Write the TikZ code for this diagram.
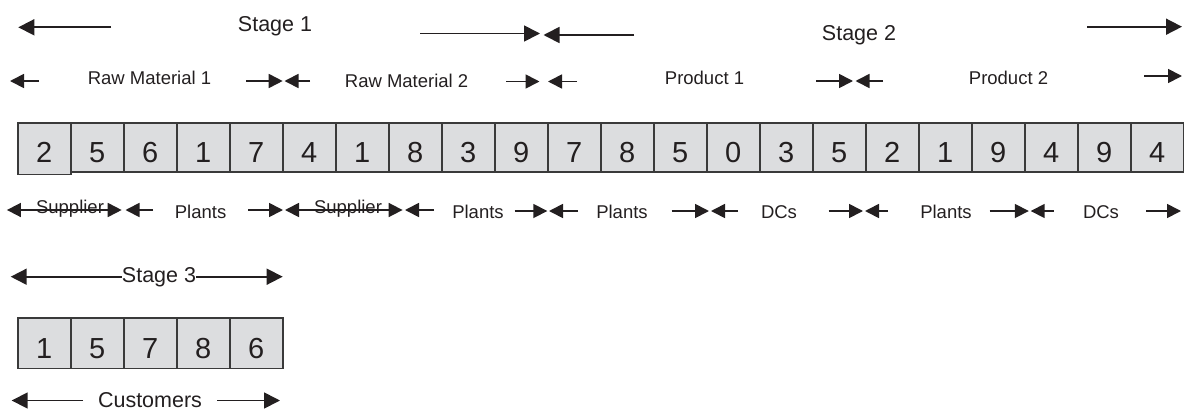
\documentclass[tikz,border=0pt]{standalone}
\usepackage{fontspec}
\setmainfont{Liberation Sans}
\usetikzlibrary{arrows.meta}
\definecolor{cellfill}{HTML}{DCDDDF}
\definecolor{cellline}{HTML}{3A3A3A}
\definecolor{ink}{HTML}{231F20}

\begin{document}
\begin{tikzpicture}[x=1pt,y=-1pt,
  cellbox/.style={draw=cellline, fill=cellfill, line width=1.6pt,
    minimum width=53pt, minimum height=49pt, inner sep=0pt, anchor=north,
    text height=31pt, text depth=0pt, text=ink,
    font=\fontsize{29}{30}\selectfont},
  lbl/.style={anchor=base, inner sep=0pt, text=ink,
    font=\fontsize{18.5}{20}\selectfont},
  biglbl/.style={lbl, font=\fontsize{21.5}{23}\selectfont},
  dimline/.style={draw=ink, line width=1.7pt},
  bigtip/.style={dimline, -{Triangle[length=16pt,width=16pt]}},
  smalltip/.style={dimline, -{Triangle[length=14pt,width=14pt]}},
  bothtip/.style={dimline, {Triangle[length=14pt,width=14pt]}-{Triangle[length=14pt,width=14pt]}},
]
\useasboundingbox (0,0) rectangle (1184,410);

% ---------- Stage row ----------
\node[biglbl] (st1) at (275,31.7) {Stage 1};
\node[biglbl] (st2) at (859,40.7) {Stage 2};
\coordinate (s1L) at (18.3,27.3);   \coordinate (s1a) at (111,27.3);
\coordinate (s1b) at (420,33.5);    \coordinate (s1R) at (540,33.5);
\coordinate (s2a) at (634,35);      \coordinate (s2L) at (543.5,35);
\coordinate (s2b) at (1087,26.7);   \coordinate (s2R) at (1182,26.7);
\draw[bigtip] (s1a) -- (s1L);
\draw[bigtip] (s1b) -- (s1R);
\draw[bigtip] (s2a) -- (s2L);
\draw[bigtip] (s2b) -- (s2R);

% ---------- Material / product row ----------
\node[lbl] (rm1) at (149.5,84.4) {Raw Material 1};
\node[lbl] (rm2) at (406.6,87)   {Raw Material 2};
\node[lbl] (pr1) at (704.5,84)   {Product 1};
\node[lbl] (pr2) at (1008.5,84)  {Product 2};
\foreach \a/\b/\y [count=\k] in {39/10/81, 246/282.7/81, 310/284.5/81,
    506/539.5/81.5, 577/548/81.5, 816/853/81, 883/855.5/81, 1144/1182/76}{
  \coordinate (m\k a) at (\a,\y);
  \coordinate (m\k b) at (\b,\y);
  \draw[smalltip] (m\k a) -- (m\k b);
}

% ---------- Chromosome, stages 1 and 2 ----------
\node[cellbox, minimum height=51.5pt, text height=28.5pt] (c0) at (44.2,122) {2};
\foreach \d [count=\i] in {5,6,1,7,4,1,8,3,9,7,8,5,0,3,5,2,1,9,4,9,4}{
  \node[cellbox] (c\i) at ({44.2+53*\i},122) {\d};
}

% ---------- Facility row ----------
\node[lbl] (sup1) at (70,213)    {Supplier};
\node[lbl] (pl1)  at (200.6,218.5) {Plants};
\node[lbl] (sup2) at (348,213)   {Supplier};
\node[lbl] (pl2)  at (478,218.5) {Plants};
\node[lbl] (pl3)  at (622,218.5) {Plants};
\node[lbl] (dc1)  at (779,218.5) {DCs};
\node[lbl] (pl4)  at (946,218.5) {Plants};
\node[lbl] (dc2)  at (1101,218.5) {DCs};
\coordinate (u1a) at (6.9,210);  \coordinate (u1b) at (121.7,210);
\coordinate (u2a) at (285,210);  \coordinate (u2b) at (402.6,210);
\draw[bothtip] (u1a) -- (u1b);
\draw[bothtip] (u2a) -- (u2b);
\foreach \a/\b/\y [count=\k] in {153/125.5/210, 248/283/210, 434/405/210,
    514.7/547.3/211, 578/549/211, 671.7/709/211, 738/711/211,
    828.5/863/211, 888/865/211, 989.5/1028.8/211, 1053.8/1030.7/211,
    1146/1181/211}{
  \coordinate (f\k a) at (\a,\y);
  \coordinate (f\k b) at (\b,\y);
  \draw[smalltip] (f\k a) -- (f\k b);
}

% ---------- Stage 3 ----------
\node[biglbl] (st3) at (159,282.7) {Stage 3};
\coordinate (s3L) at (10.7,276.7);
\coordinate (s3R) at (282.7,276.7);
\draw[bigtip] (st3.west |- s3L) -- (s3L);
\draw[bigtip] (st3.east |- s3R) -- (s3R);
\foreach \d [count=\i from 0] in {1,5,7,8,6}{
  \node[cellbox, minimum height=50.5pt] (d\i) at ({44.2+53*\i},317) {\d};
}
\node[biglbl] (cus) at (150,407.3) {Customers};
\coordinate (k1a) at (83,400.5);  \coordinate (k1b) at (11.7,400.5);
\coordinate (k2a) at (217,400.5); \coordinate (k2b) at (280,400.5);
\draw[bigtip] (k1a) -- (k1b);
\draw[bigtip] (k2a) -- (k2b);
\end{tikzpicture}
\end{document}
